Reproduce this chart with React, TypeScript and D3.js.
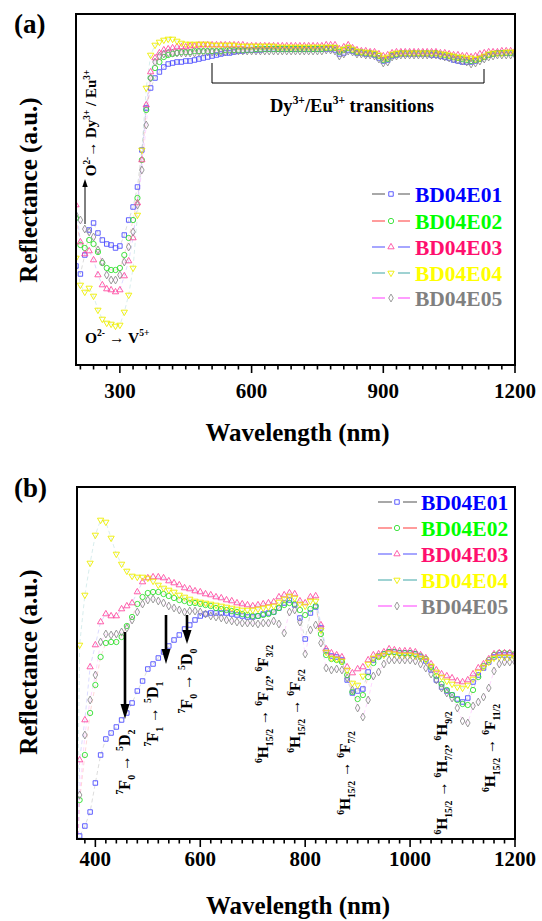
import React from 'react';
import * as d3 from 'd3';

const FONT = 'Liberation Serif, Times New Roman, DejaVu Serif, serif';

const SERIES = ['BD04E01', 'BD04E02', 'BD04E03', 'BD04E04', 'BD04E05'];
const LABEL_COLORS = ['#0000ff', '#00ff00', '#ff0f6e', '#ffff00', '#808080'];
const MARKER_COLORS = ['#4d4dff', '#2fe02f', '#ff4da0', '#eeee00', '#8f8f8f'];
const LINE_COLORS = ['#6e6e6e', '#ff5a5a', '#6b6bff', '#5fb5b5', '#ff5cff'];
const SHAPES = ['square', 'circle', 'triangle', 'triangleDown', 'diamond'];

const TICKS_A = [300, 600, 900, 1200];
const TICKS_B = [400, 600, 800, 1000, 1200];

// Panel (a): wavelength (nm) and reflectance (a.u.)
const WL_A = [200,210,220,230,240,250,260,270,280,290,300,310,320,330,340,350,360,370,380,390,400,410,420,430,440,
  450,460,470,480,490,500,510,520,530,540,550,560,570,580,590,600,
  610,620,630,640,650,660,670,680,690,700,710,720,730,740,750,760,770,780,790,
  800,810,820,830,840,850,860,870,880,890,900,910,920,930,940,950,960,970,980,990,
  1000,1010,1020,1030,1040,1050,1060,1070,1080,1090,1100,1110,1120,1130,1140,1150,1160,1170,1180,1190,1200];

const A_E01 = [134,126,145,170,177,167,160,156,155,152,154,165,180,193,213,250,292,312,322,328,333,336,337,338,338,
  339,339,340,341,342,343,344,345,346,347,347,348,349,349,350,350,
  350,350,351,351,351,351,351,351,351,351,351,351,351,351,351,351,351,351,350,
  346,347,350,349,347,347,346,346,345,342,339,340,344,345,346,346,346,346,346,346,
  346,345,345,344,343,342,340,339,338,338,338,339,341,343,345,346,347,347,347,347,347];
const A_E02 = [182,155,152,160,156,148,137,132,130,130,132,145,162,180,202,240,290,322,332,338,343,345,346,347,348,
  348,348,349,349,349,349,349,349,349,350,350,350,350,350,350,350,
  351,351,351,351,351,351,351,351,351,351,351,351,351,351,351,351,352,352,352,
  348,350,352,350,348,348,347,347,346,344,340,341,345,346,347,347,347,347,347,347,
  347,347,347,346,345,344,343,342,341,340,339,340,341,343,345,346,347,347,347,347,347];
const A_E03 = [195,158,146,149,140,125,115,111,110,108,110,124,139,162,197,240,295,328,342,347,350,351,352,353,353,
  353,354,354,355,355,355,355,355,355,355,355,355,355,355,354,354,
  354,354,354,354,354,354,354,354,354,354,354,354,354,354,354,354,355,355,355,
  351,353,355,352,350,349,349,348,348,346,344,345,347,348,348,348,348,348,348,348,
  348,348,348,347,347,346,345,345,344,344,343,344,346,347,348,348,348,349,349,349,349];
const A_E04 = [142,115,108,112,104,90,81,77,76,74,75,88,105,132,185,250,312,345,355,358,360,361,361,359,357,
  356,356,356,356,356,356,355,355,355,355,355,355,354,354,354,354,
  354,354,354,354,354,353,353,353,353,353,353,353,353,353,353,353,353,353,353,
  350,351,353,351,349,348,348,347,347,345,342,343,346,347,347,347,347,347,347,347,
  347,347,347,346,346,345,344,343,343,342,342,341,342,344,346,347,347,347,348,348,348];
const A_E05 = [185,180,171,168,163,150,138,125,120,120,125,138,153,168,195,230,275,322,338,344,346,347,347,347,347,
  347,347,347,348,348,348,348,348,348,348,349,349,349,349,349,349,
  349,349,349,349,349,349,349,349,349,349,349,349,349,349,349,349,350,350,349,
  344,346,349,348,346,346,345,345,344,341,337,338,343,344,345,345,345,345,345,345,
  345,345,345,344,343,342,341,340,339,338,336,337,339,341,343,344,345,345,345,345,345];

// Panel (b)
const WL_B = [365,370,380,390,400,410,420,430,440,450,460,470,480,490,500,510,520,530,540,550,
  560,570,580,590,600,610,620,630,640,650,660,670,680,690,700,710,720,730,740,750,
  760,770,780,790,800,810,820,830,840,850,860,870,880,890,900,910,920,930,940,950,
  960,970,980,990,1000,1010,1020,1030,1040,1050,1060,1070,1080,1090,1100,1110,1120,1130,1140,1150,
  1160,1170,1180,1190,1200];

const B_E01 = [30,64,74,88,117,145,161,167,173,180,187,197,209,219,231,236,242,248,254,260,
  265,271,275,280,284,286,287,287,287,287,286,285,284,283,283,284,286,287,288,292,
  297,300,295,282,261,287,293,272,249,244,243,240,220,207,209,211,228,240,244,246,
  248,248,247,247,247,246,243,239,230,220,213,209,205,201,198,202,218,225,232,238,
  243,245,245,245,244];
const B_E02 = [30,100,145,187,215,243,257,258,258,263,274,283,296,303,307,308,308,306,304,302,
  300,299,297,297,296,295,294,292,291,290,289,288,286,285,284,284,285,286,288,292,
  295,297,296,290,285,291,294,266,245,241,240,238,225,208,201,205,223,237,243,246,
  248,248,247,247,247,246,244,241,233,224,216,210,205,200,196,195,210,223,234,240,
  245,247,247,247,246];
const B_E03 = [30,140,180,233,255,278,286,284,284,291,294,297,308,318,322,323,323,322,319,317,
  315,312,311,309,308,306,305,303,302,300,299,297,296,295,294,295,296,297,298,303,
  305,307,306,299,297,303,304,275,251,247,245,243,233,227,231,233,240,245,246,248,
  251,250,249,249,249,248,245,242,236,230,226,224,222,219,218,220,226,232,236,241,
  246,247,247,247,246];
const B_E04 = [40,255,305,337,365,380,378,362,346,336,329,324,323,323,322,319,315,312,310,308,
  305,303,301,299,298,297,296,295,294,293,292,291,290,290,290,291,292,293,294,298,
  301,304,302,296,294,299,299,270,248,242,241,239,230,217,215,224,236,242,244,245,
  247,246,245,245,245,244,242,240,234,228,223,219,216,213,212,215,221,228,233,238,
  242,243,243,243,242];
const B_E05 = [30,105,165,200,225,258,266,265,266,268,272,280,288,296,300,301,299,297,294,292,
  290,288,289,289,288,286,284,283,282,280,279,278,277,277,277,276,277,277,279,276,
  267,288,290,278,246,270,275,257,232,230,231,230,222,210,192,183,200,224,228,236,
  240,240,240,240,240,239,236,232,226,220,212,207,202,192,179,177,194,198,203,212,
  229,236,238,238,238];

type Seg = { t: string; s?: 'sup' | 'sub' };

function rich(segs: Seg[], size: number) {
  let cur = 0;
  return segs.map((sg, i) => {
    const target = sg.s === 'sup' ? -size * 0.42 : sg.s === 'sub' ? size * 0.3 : 0;
    const dy = target - cur;
    cur = target;
    return (
      <tspan key={i} dy={dy} style={{ fontSize: sg.s ? size * 0.62 : size }}>
        {sg.t}
      </tspan>
    );
  });
}

function markerPath(shape: string): string {
  if (shape === 'square') return d3.symbol(d3.symbolSquare, 20)() as string;
  if (shape === 'circle') return d3.symbol(d3.symbolCircle, 22)() as string;
  if (shape === 'triangle' || shape === 'triangleDown') return d3.symbol(d3.symbolTriangle, 17)() as string;
  return d3.symbol(d3.symbolDiamond, 18)() as string;
}

function Marker({ shape, x, y, color }: { shape: string; x: number; y: number; color: string }) {
  const rot = shape === 'triangleDown' ? ' rotate(180)' : '';
  return (
    <path d={markerPath(shape)} transform={`translate(${x},${y})${rot}`} fill="none" stroke={color} strokeWidth={0.9} />
  );
}

type PanelCfg = {
  id: string;
  x0: number; x1: number; y0: number; y1: number;
  xDom: [number, number]; yDom: [number, number];
  wl: number[]; data: number[][];
  major: number[]; minorStart: number; minorStep: number;
  tickLabelY: number; titleY: number; yTitleX: number; yTitleY: number;
  letter: string; letterY: number;
  legend: { a: [number, number]; m: number; b: [number, number]; tx: number; rows: number[] };
};

const bold = (size: number): React.CSSProperties => ({ fontFamily: FONT, fontWeight: 700, fontSize: size });

function Panel({ c, children }: { c: PanelCfg; children?: React.ReactNode }) {
  const xs = d3.scaleLinear().domain(c.xDom).range([c.x0, c.x1]);
  const ys = d3.scaleLinear().domain(c.yDom).range([c.y1, c.y0]);
  const minor = d3.range(c.minorStart, c.xDom[1] + 0.1, c.minorStep);
  const lineGen = d3.line<number>().x((_, i) => xs(c.wl[i])).y((d) => ys(d));
  return (
    <g>
      <defs>
        <clipPath id={c.id}>
          <rect x={c.x0} y={c.y0} width={c.x1 - c.x0} height={c.y1 - c.y0} />
        </clipPath>
      </defs>
      <g clipPath={`url(#${c.id})`}>
        {c.data.map((s, k) => (
          <path key={'l' + k} d={lineGen(s) as string} fill="none" stroke={LINE_COLORS[k]} strokeWidth={0.45} strokeOpacity={0.55} strokeDasharray="4 3" />
        ))}
        {c.data.map((s, k) =>
          s.map((v, i) => (
            <Marker key={k + '-' + i} shape={SHAPES[k]} x={xs(c.wl[i])} y={ys(v)} color={MARKER_COLORS[k]} />
          ))
        )}
      </g>
      <rect x={c.x0} y={c.y0} width={c.x1 - c.x0} height={c.y1 - c.y0} fill="none" stroke="#000" strokeWidth={2} />
      {minor.map((t) => (
        <line key={'mt' + t} x1={xs(t)} x2={xs(t)} y1={c.y1} y2={c.y1 + (c.major.includes(t) ? 8 : 4.5)} stroke="#000" strokeWidth={1.6} />
      ))}
      {c.major.map((t) => (
        <text key={'tl' + t} x={xs(t)} y={c.tickLabelY} textAnchor="middle" style={bold(21)}>
          {t}
        </text>
      ))}
      <text x={(c.x0 + c.x1) / 2 + 2} y={c.titleY} textAnchor="middle" style={bold(25)}>
        Wavelength (nm)
      </text>
      <text transform={`translate(${c.yTitleX},${c.yTitleY}) rotate(-90)`} textAnchor="middle" style={bold(25)}>
        Reflectance (a.u.)
      </text>
      <text x={14} y={c.letterY} style={bold(27)}>
        {c.letter}
      </text>
      {SERIES.map((name, k) => {
        const ry = c.legend.rows[k];
        return (
          <g key={'lg' + k}>
            <line x1={c.legend.a[0]} x2={c.legend.a[1]} y1={ry} y2={ry} stroke={LINE_COLORS[k]} strokeWidth={1.2} />
            <Marker shape={SHAPES[k]} x={c.legend.m} y={ry} color={MARKER_COLORS[k]} />
            <line x1={c.legend.b[0]} x2={c.legend.b[1]} y1={ry} y2={ry} stroke={LINE_COLORS[k]} strokeWidth={1.2} />
            <text x={c.legend.tx} y={ry + 7.5} style={bold(21.5)} fill={LABEL_COLORS[k]}>
              {name}
            </text>
          </g>
        );
      })}
      {children}
    </g>
  );
}

function RotLabel({ x, y, segs, size }: { x: number; y: number; segs: Seg[]; size: number }) {
  return (
    <text transform={`translate(${x},${y}) rotate(-90)`} textAnchor="middle" style={bold(size)}>
      {rich(segs, size)}
    </text>
  );
}

function DownArrow({ x, y1, y2, w, head, hw }: { x: number; y1: number; y2: number; w: number; head: number; hw: number }) {
  return (
    <g>
      <line x1={x} x2={x} y1={y1} y2={y2 - head + 1} stroke="#000" strokeWidth={w} />
      <path d={`M${x - hw / 2},${y2 - head} L${x + hw / 2},${y2 - head} L${x},${y2} Z`} fill="#000" />
    </g>
  );
}

const H15: Seg[] = [{ t: '6', s: 'sup' }, { t: 'H' }, { t: '15/2', s: 'sub' }, { t: ' → ' }];

export default function App() {
  const cfgA: PanelCfg = {
    id: 'clipA',
    x0: 76, x1: 515, y0: 14, y1: 365,
    xDom: [200, 1200], yDom: [35, 386],
    wl: WL_A, data: [A_E01, A_E02, A_E03, A_E04, A_E05],
    major: TICKS_A, minorStart: 210, minorStep: 30,
    tickLabelY: 398, titleY: 441, yTitleX: 37, yTitleY: 190,
    letter: '(a)', letterY: 33,
    legend: { a: [372, 385], m: 391, b: [398, 410], tx: 415, rows: [194, 221, 247, 273, 298] },
  };
  const cfgB: PanelCfg = {
    id: 'clipB',
    x0: 77, x1: 515, y0: 487, y1: 839,
    xDom: [365, 1200], yDom: [61, 413],
    wl: WL_B, data: [B_E01, B_E02, B_E03, B_E04, B_E05],
    major: TICKS_B, minorStart: 380, minorStep: 20,
    tickLabelY: 866, titleY: 914, yTitleX: 37, yTitleY: 662,
    letter: '(b)', letterY: 497,
    legend: { a: [378, 392], m: 397, b: [403, 417], tx: 421, rows: [502, 528, 554, 580, 606] },
  };
  return (
    <svg width={542} height={921} style={{ position: 'absolute', left: 0, top: 0, background: '#fff', fontFamily: FONT }}>
      <rect x={0} y={0} width={542} height={921} fill="#fff" />
      <Panel c={cfgA}>
        <path d="M212,63 V83 H484 V69" fill="none" stroke="#000" strokeWidth={1} />
        <text x={270} y={112} style={bold(18.5)}>
          {rich([{ t: 'Dy' }, { t: '3+', s: 'sup' }, { t: '/Eu' }, { t: '3+', s: 'sup' }, { t: ' transitions' }], 18.5)}
        </text>
        <RotLabel
          x={96}
          y={123}
          size={15}
          segs={[{ t: 'O' }, { t: '2-', s: 'sup' }, { t: '→ Dy' }, { t: '3+', s: 'sup' }, { t: ' / Eu' }, { t: '3+', s: 'sup' }]}
        />
        <line x1={85} x2={85} y1={224} y2={186} stroke="#000" strokeWidth={1} />
        <path d="M82.3,187 L87.7,187 L85,179 Z" fill="#000" />
        <text x={85} y={343} style={bold(15.5)}>
          {rich([{ t: 'O' }, { t: '2-', s: 'sup' }, { t: ' → V' }, { t: '5+', s: 'sup' }], 15.5)}
        </text>
      </Panel>
      <Panel c={cfgB}>
        <DownArrow x={125} y1={632} y2={719} w={2.6} head={15} hw={9} />
        <DownArrow x={166} y1={615} y2={664} w={2.6} head={15} hw={9} />
        <DownArrow x={187} y1={615} y2={644} w={2.6} head={14} hw={9} />
        <RotLabel x={130} y={762} size={16}
          segs={[{ t: '7', s: 'sup' }, { t: 'F' }, { t: '0', s: 'sub' }, { t: ' → ' }, { t: '5', s: 'sup' }, { t: 'D' }, { t: '2', s: 'sub' }]} />
        <RotLabel x={158} y={714} size={16}
          segs={[{ t: '7', s: 'sup' }, { t: 'F' }, { t: '1', s: 'sub' }, { t: ' → ' }, { t: '5', s: 'sup' }, { t: 'D' }, { t: '1', s: 'sub' }]} />
        <RotLabel x={192} y={681} size={16}
          segs={[{ t: '7', s: 'sup' }, { t: 'F' }, { t: '0', s: 'sub' }, { t: ' → ' }, { t: '5', s: 'sup' }, { t: 'D' }, { t: '0', s: 'sub' }]} />
        <RotLabel x={268} y={704} size={15.5}
          segs={[...H15, { t: '6', s: 'sup' }, { t: 'F' }, { t: '1/2', s: 'sub' }, { t: ', ' }, { t: '6', s: 'sup' }, { t: 'F' }, { t: '3/2', s: 'sub' }]} />
        <RotLabel x={300} y={711} size={15.5}
          segs={[...H15, { t: '6', s: 'sup' }, { t: 'F' }, { t: '5/2', s: 'sub' }]} />
        <RotLabel x={350} y={773} size={15.5}
          segs={[...H15, { t: '6', s: 'sup' }, { t: 'F' }, { t: '7/2', s: 'sub' }]} />
        <RotLabel x={447} y={773} size={15.5}
          segs={[...H15, { t: '6', s: 'sup' }, { t: 'H' }, { t: '7/2', s: 'sub' }, { t: ', ' }, { t: '6', s: 'sup' }, { t: 'H' }, { t: '9/2', s: 'sub' }]} />
        <RotLabel x={495} y={748} size={15.5}
          segs={[...H15, { t: '6', s: 'sup' }, { t: 'F' }, { t: '11/2', s: 'sub' }]} />
      </Panel>
    </svg>
  );
}
